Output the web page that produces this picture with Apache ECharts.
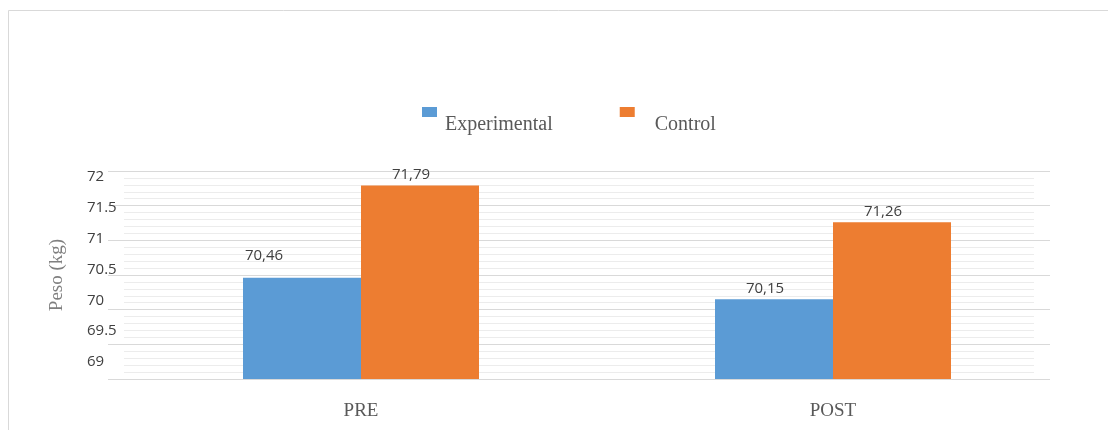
<!DOCTYPE html>
<html>
<head>
<meta charset="utf-8">
<script src="https://cdn.jsdelivr.net/npm/echarts@6/dist/echarts.min.js"></script>
<style>
html, body { margin: 0; padding: 0; background: #fff; }
#main { width: 1108px; height: 430px; }
</style>
</head>
<body>
<div id="main"></div>
<script>
// values
const categories = ['PRE', 'POST'];
const seriesNames = ['Experimental', 'Control'];
const experimental = [70.46, 70.15];
const control = [71.79, 71.26];
const yMin = 69;
const yMax = 72;
const yStep = 0.5;
const yName = 'Peso (kg)';

const serif = '"Liberation Serif", "DejaVu Serif", serif';
const sans = '"Open Sans", "Liberation Sans", sans-serif';
const withComma = p => String(p.value).replace('.', ',');

const barLabel = {
	show: true,
	position: 'top',
	distance: 3,
	offset: [-9, 0],
	formatter: withComma,
	fontFamily: sans,
	fontSize: 15,
	color: '#404040'
};

const legendText = { fontFamily: serif, fontSize: 20, color: '#595959' };

const hiddenX = gridIndex => ({ type: 'value', gridIndex, show: false, min: 0, max: 1 });
const valueY = gridIndex => ({
	type: 'value', gridIndex, min: yMin, max: yMax, interval: yStep,
	axisLine: { show: false }, axisTick: { show: false },
	axisLabel: { show: false }, splitLine: { show: false }
});

const chart = echarts.init(document.getElementById('main'), null, { renderer: 'canvas' });
chart.setOption({
	animation: false,
	backgroundColor: '#fff',
	graphic: [{
		type: 'rect',
		silent: true,
		shape: { x: 8.5, y: 10.5, width: 1200, height: 500 },
		style: { fill: 'none', stroke: '#d9d9d9', lineWidth: 1 }
	}],
	legend: {
		data: seriesNames,
		left: 417,
		top: 102,
		icon: 'rect',
		itemWidth: 15,
		itemHeight: 10,
		itemGap: 67,
		formatter: name => (name === seriesNames[0] ? '{e|' : '{c|') + name + '}',
		textStyle: {
			...legendText,
			rich: {
				e: { ...legendText, padding: [26, 0, 0, 3] },
				c: { ...legendText, padding: [26, 0, 0, 15] }
			}
		}
	},
	grid: [
		// bars
		{ left: 125, width: 944, top: 171, bottom: 51 },
		// minor lines
		{ left: 124, right: 74, top: 171, bottom: 51 },
		// major lines
		{ left: 108, right: 58, top: 171, bottom: 51 },
		// tick labels
		{ left: 87, right: 58, top: 177, bottom: 68 }
	],
	xAxis: [
		{
			type: 'category',
			gridIndex: 0,
			data: categories,
			axisLine: { show: false },
			axisTick: { show: false },
			axisLabel: { margin: 23, fontFamily: serif, fontSize: 19, color: '#595959' }
		},
		hiddenX(1), hiddenX(2), hiddenX(3)
	],
	yAxis: [
		{ ...valueY(0), show: false },
		{
			...valueY(1),
			minorTick: { show: false, splitNumber: 5 },
			minorSplitLine: { show: true, lineStyle: { color: '#ececec', width: 1 } }
		},
		{
			...valueY(2),
			splitLine: { show: true, lineStyle: { color: '#d9d9d9', width: 1 } },
			name: yName,
			nameLocation: 'middle',
			nameGap: 41,
			nameTextStyle: { fontFamily: serif, fontSize: 19, color: '#7f7f7f' }
		},
		{
			...valueY(3),
			axisLabel: {
				show: true, align: 'left', margin: 0,
				fontFamily: sans, fontSize: 15, color: '#404040'
			}
		}
	],
	series: [
		{
			name: seriesNames[0],
			type: 'bar',
			xAxisIndex: 0,
			yAxisIndex: 0,
			barWidth: 118,
			barGap: '0%',
			color: '#5b9bd5',
			label: barLabel,
			data: experimental.map((v, i) => i === 0 ? { value: v, label: { offset: [-38, -12] } } : v)
		},
		{
			name: seriesNames[1],
			type: 'bar',
			xAxisIndex: 0,
			yAxisIndex: 0,
			barWidth: 118,
			barGap: '0%',
			color: '#ed7d31',
			label: barLabel,
			data: control
		}
	]
});
</script>
</body>
</html>
